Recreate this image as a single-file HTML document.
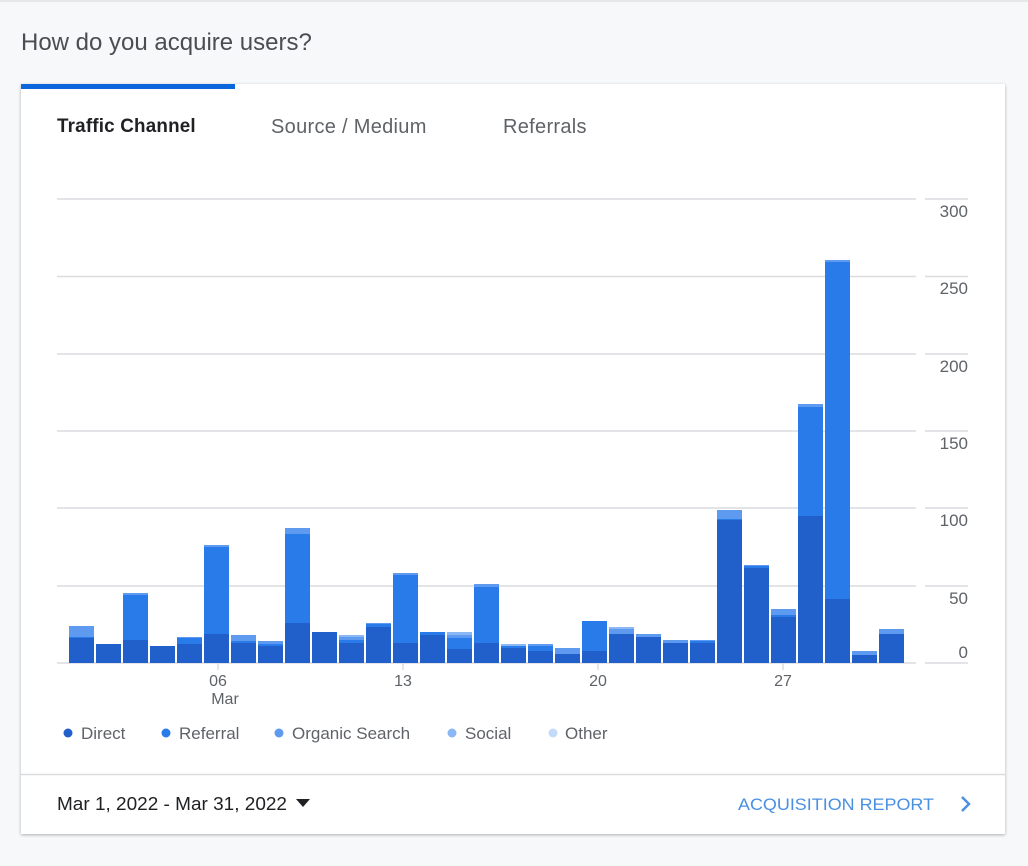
<!DOCTYPE html>
<html><head><meta charset="utf-8"><style>
body{margin:0;width:1028px;height:866px;background:#f7f8fa;font-family:"Liberation Sans",sans-serif;overflow:hidden;position:relative}
.t{position:absolute;white-space:nowrap}
</style></head><body>
<div style="position:absolute;left:0;top:0;width:1028px;height:2px;background:#e6e7e9"></div>
<div class="t" style="left:21px;top:29px;font-size:24px;color:#4a4d51">How do you acquire users?</div>
<div style="position:absolute;left:21px;top:84px;width:984px;height:750px;background:#fff;box-shadow:0 1px 3px rgba(0,0,0,.3)"></div>
<div style="position:absolute;left:21px;top:84px;width:214px;height:5px;background:#0b68dc"></div>
<div class="t" style="left:57px;top:116px;font-size:19px;color:#202124;font-weight:bold;letter-spacing:0.2px;transform:scaleX(0.99);transform-origin:left">Traffic Channel</div>
<div class="t" style="left:271px;top:116px;font-size:20px;color:#5f6368;letter-spacing:0.3px">Source / Medium</div>
<div class="t" style="left:503px;top:116px;font-size:20px;color:#5f6368;letter-spacing:0.3px">Referrals</div>
<svg style="position:absolute;left:0;top:0" width="1028" height="866">
<g stroke="#dadce0" stroke-width="1.5">
<line x1="57" x2="916" y1="199" y2="199"/><line x1="57" x2="916" y1="276.5" y2="276.5"/>
<line x1="57" x2="916" y1="354" y2="354"/><line x1="57" x2="916" y1="431" y2="431"/>
<line x1="57" x2="916" y1="508" y2="508"/><line x1="57" x2="916" y1="586" y2="586"/>
<line x1="57" x2="916" y1="663" y2="663"/>
<line x1="925" x2="968" y1="199" y2="199"/><line x1="925" x2="968" y1="276.5" y2="276.5"/>
<line x1="925" x2="968" y1="354" y2="354"/><line x1="925" x2="968" y1="431" y2="431"/>
<line x1="925" x2="968" y1="508" y2="508"/><line x1="925" x2="968" y1="586" y2="586"/>
<line x1="925" x2="968" y1="663" y2="663"/>
<line x1="218" x2="218" y1="663" y2="670"/><line x1="403" x2="403" y1="663" y2="670"/>
<line x1="598" x2="598" y1="663" y2="670"/><line x1="783" x2="783" y1="663" y2="670"/>
</g>
<g font-size="17" fill="#5f6368" text-anchor="end" font-family="Liberation Sans">
<text x="968" y="217">300</text><text x="968" y="294">250</text><text x="968" y="372">200</text>
<text x="968" y="449">150</text><text x="968" y="526">100</text><text x="968" y="604">50</text><text x="968" y="658">0</text>
</g>
<g font-size="16" fill="#5f6368" text-anchor="middle" font-family="Liberation Sans">
<text x="218" y="686">06</text><text x="225" y="704">Mar</text><text x="403" y="686">13</text>
<text x="598" y="686">20</text><text x="783" y="686">27</text>
</g>
<g fill="#215fca">
<rect x="69" y="638" width="25" height="25"/><rect x="96" y="644" width="25" height="19"/><rect x="123" y="640" width="25" height="23"/>
<rect x="150" y="646" width="25" height="17"/><rect x="177" y="644" width="25" height="19"/><rect x="204" y="634" width="25" height="29"/>
<rect x="231" y="643" width="25" height="20"/><rect x="258" y="646" width="25" height="17"/><rect x="285" y="623" width="25" height="40"/>
<rect x="312" y="632" width="25" height="31"/><rect x="339" y="643" width="25" height="20"/><rect x="366" y="627" width="25" height="36"/>
<rect x="393" y="643" width="25" height="20"/><rect x="420" y="635" width="25" height="28"/><rect x="447" y="649" width="25" height="14"/>
<rect x="474" y="643" width="25" height="20"/><rect x="501" y="648" width="25" height="15"/><rect x="528" y="651" width="25" height="12"/>
<rect x="555" y="654" width="25" height="9"/><rect x="582" y="651" width="25" height="12"/><rect x="609" y="634" width="25" height="29"/>
<rect x="636" y="637" width="25" height="26"/><rect x="663" y="643" width="25" height="20"/><rect x="690" y="643" width="25" height="20"/>
<rect x="717" y="520" width="25" height="143"/><rect x="744" y="568" width="25" height="95"/><rect x="771" y="617" width="25" height="46"/>
<rect x="798" y="516" width="25" height="147"/><rect x="825" y="599" width="25" height="64"/><rect x="852" y="655" width="25" height="8"/>
<rect x="879" y="634" width="25" height="29"/>
</g>
<g fill="#297bea">
<rect x="69" y="637" width="25" height="1"/><rect x="123" y="595" width="25" height="45"/><rect x="177" y="638" width="25" height="6"/>
<rect x="204" y="547" width="25" height="87"/><rect x="231" y="641" width="25" height="2"/><rect x="258" y="644" width="25" height="2"/>
<rect x="285" y="534" width="25" height="89"/><rect x="339" y="640" width="25" height="3"/><rect x="366" y="624" width="25" height="3"/>
<rect x="393" y="575" width="25" height="68"/><rect x="420" y="632" width="25" height="3"/><rect x="447" y="638" width="25" height="11"/>
<rect x="474" y="587" width="25" height="56"/><rect x="501" y="646" width="25" height="2"/><rect x="528" y="646" width="25" height="5"/>
<rect x="582" y="621" width="25" height="30"/><rect x="690" y="641" width="25" height="2"/><rect x="717" y="519" width="25" height="1"/>
<rect x="744" y="566" width="25" height="2"/><rect x="771" y="615" width="25" height="2"/><rect x="798" y="407" width="25" height="109"/>
<rect x="825" y="262" width="25" height="337"/>
</g>
<g fill="#5e9bf0">
<rect x="69" y="626" width="25" height="11"/><rect x="123" y="593" width="25" height="2"/><rect x="177" y="637" width="25" height="1"/>
<rect x="204" y="545" width="25" height="2"/><rect x="231" y="635" width="25" height="6"/><rect x="258" y="641" width="25" height="3"/>
<rect x="285" y="528" width="25" height="6"/><rect x="339" y="637" width="25" height="3"/><rect x="366" y="623" width="25" height="1"/>
<rect x="393" y="573" width="25" height="2"/><rect x="447" y="635" width="25" height="3"/><rect x="474" y="584" width="25" height="3"/>
<rect x="528" y="644" width="25" height="2"/><rect x="555" y="648" width="25" height="6"/><rect x="609" y="629" width="25" height="5"/>
<rect x="636" y="634" width="25" height="3"/><rect x="663" y="640" width="25" height="3"/><rect x="690" y="640" width="25" height="1"/>
<rect x="717" y="510" width="25" height="9"/><rect x="744" y="565" width="25" height="1"/><rect x="771" y="609" width="25" height="6"/>
<rect x="798" y="404" width="25" height="3"/><rect x="825" y="260" width="25" height="2"/><rect x="852" y="651" width="25" height="4"/>
<rect x="879" y="629" width="25" height="5"/>
</g>
<g fill="#8ab8f4">
<rect x="339" y="635" width="25" height="2"/><rect x="447" y="632" width="25" height="3"/><rect x="501" y="644" width="25" height="2"/>
<rect x="609" y="627" width="25" height="2"/>
</g>
<circle cx="68" cy="733" r="4.5" fill="#215fca"/><circle cx="166" cy="733" r="4.5" fill="#297bea"/>
<circle cx="279" cy="733" r="4.5" fill="#5e9bf0"/><circle cx="452" cy="733" r="4.5" fill="#8ab8f4"/>
<circle cx="553" cy="733" r="4.5" fill="#c3dafb"/>
<g font-size="17" fill="#5f6368" font-family="Liberation Sans">
<text x="81" y="739">Direct</text><text x="179" y="739">Referral</text><text x="292" y="739">Organic Search</text>
<text x="465" y="739">Social</text><text x="565" y="739">Other</text>
</g>
<line x1="21" x2="1005" y1="774.5" y2="774.5" stroke="#dadce0" stroke-width="1.5"/>
<text x="57" y="810" font-size="18" fill="#202124" font-family="Liberation Sans" textLength="230" lengthAdjust="spacingAndGlyphs">Mar 1, 2022 - Mar 31, 2022</text>
<polygon points="296,799 310,799 303,807" fill="#202124"/>
<text x="738" y="810" font-size="17" fill="#4a90e2" font-family="Liberation Sans" textLength="196" lengthAdjust="spacingAndGlyphs">ACQUISITION REPORT</text>
<polyline points="962,797 969,804 962,811" fill="none" stroke="#4a90e2" stroke-width="2.5"/>
</svg>
</body></html>
